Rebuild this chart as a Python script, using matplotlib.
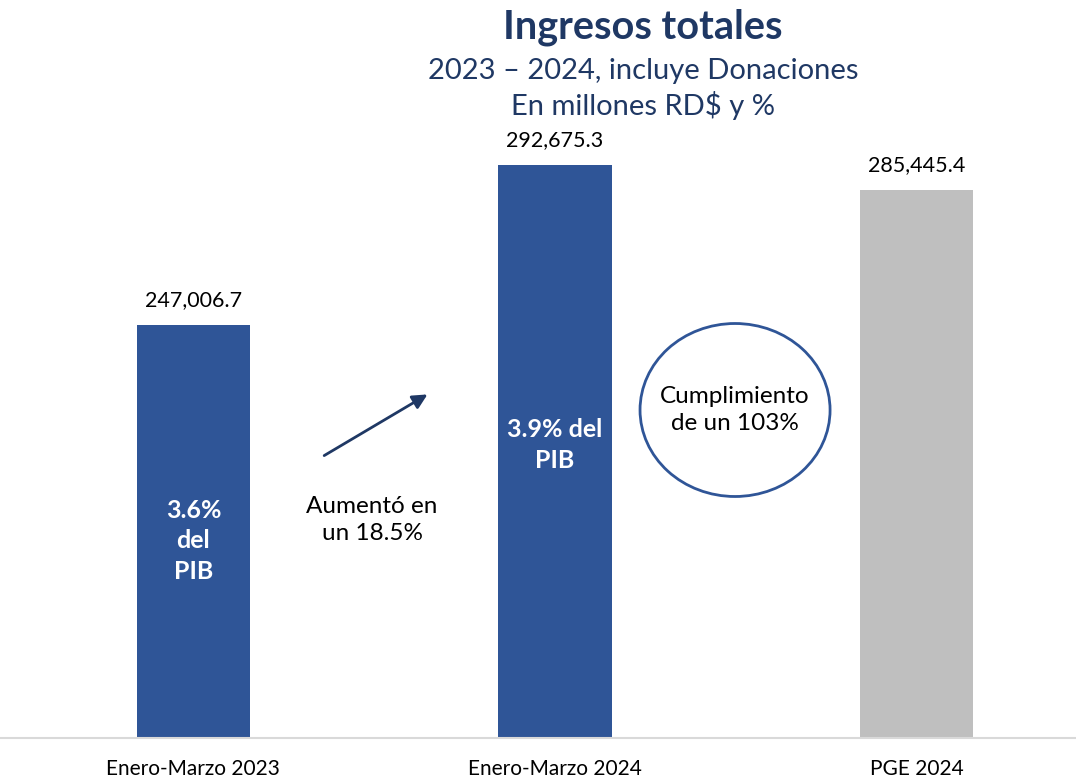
import matplotlib
matplotlib.use("Agg")
import matplotlib.pyplot as plt
import matplotlib.patches as mpatches

plt.rcParams['font.family'] = ['Lato', 'DejaVu Sans']

categories = ["Enero-Marzo 2023", "Enero-Marzo 2024", "PGE 2024"]
values = [247006.7, 292675.3, 285445.4]
value_labels = ["247,006.7", "292,675.3", "285,445.4"]
bar_colors = ["#2F5597", "#2F5597", "#BFBFBF"]
pib_labels = ["3.6%\ndel\nPIB", "3.9% del\nPIB", ""]

navy = "#1F3864"

fig = plt.figure(figsize=(10.76, 7.78), dpi=100)
ax = fig.add_axes([0, 40/778, 1, 738/778])

x = list(range(len(categories)))
ax.bar(x, values, width=0.3126, color=bar_colors, zorder=2)

ax.set_xlim(-0.535, 2.441)
ax.set_ylim(129116, 339793)

for xi, v, lab in zip(x, values, value_labels):
    ax.annotate(lab, (xi, v), xytext=(0, 18), textcoords="offset points",
                ha="center", va="center", fontsize=15.5, color="black")

# texto dentro de las barras
ax.text(0, 185354, pib_labels[0], ha="center", va="center", fontsize=18,
        fontweight="bold", color="white", linespacing=1.4)
ax.text(1, 212759, pib_labels[1], ha="center", va="center", fontsize=18,
        fontweight="bold", color="white", linespacing=1.4)

# flecha de aumento
ax.annotate("", xy=(0.654, 227603), xytext=(0.355, 209333),
            arrowprops=dict(arrowstyle="-|>", color=navy, lw=2, mutation_scale=22))
ax.text(0.494, 191348, "Aumentó en\nun 18.5%", ha="center", va="center",
        fontsize=17.5, color="black", linespacing=1.4)

# circulo de cumplimiento
circ = mpatches.Ellipse((1.498, 222750), 0.5256, 49386, fill=False,
                        edgecolor="#2F5597", lw=2, zorder=3)
ax.add_patch(circ)
ax.text(1.498, 222750, "Cumplimiento\nde un 103%", ha="center", va="center",
        fontsize=17.5, color="black", linespacing=1.4)

for s in ["top", "right", "left"]:
    ax.spines[s].set_visible(False)
ax.spines["bottom"].set_color("#D9D9D9")
ax.spines["bottom"].set_linewidth(1.5)
ax.set_yticks([])
ax.set_xticks(x)
ax.set_xticklabels(categories, fontsize=15)
ax.tick_params(axis="x", length=0, pad=15)

fig.text(643/1076, 1 - 27/778, "Ingresos totales", ha="center", va="center",
         fontsize=28.5, fontweight="bold", color=navy)
fig.text(643/1076, 1 - 71/778, "2023 – 2024, incluye Donaciones", ha="center",
         va="center", fontsize=21, color=navy)
fig.text(643/1076, 1 - 106/778, "En millones RD$ y %", ha="center",
         va="center", fontsize=21, color=navy)

fig.savefig("out.png", dpi=100)
